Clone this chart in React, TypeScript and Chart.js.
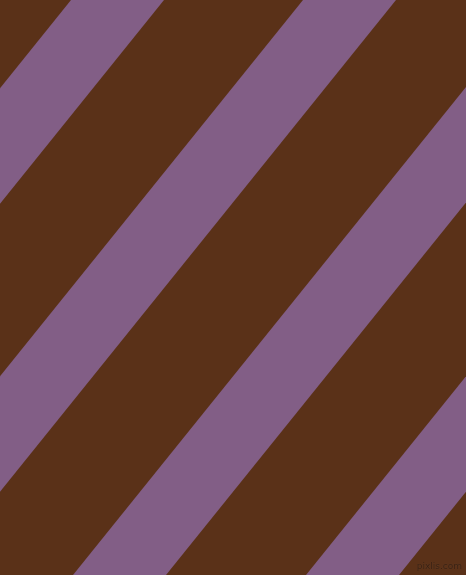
import { useEffect, useRef } from 'react';
import Chart from 'chart.js/auto';

// plot units match the picture: 466 wide, 575 tall, y counted from the top
const xRange = [0, 466];
const yRange = [0, 575];

// where each purple band's left edge meets the top border
const bandStarts = [-162, 71, 303, 536, 769];
// band width measured along the horizontal
const bandWidths = [93, 93, 93, 93, 93];
// how far each edge drifts left from top to bottom
const bandDrift = 463;

const brown = '#5a3118';
const purple = '#825e86';

export default function App() {
  const canvasRef = useRef<HTMLCanvasElement | null>(null);
  const chartRef = useRef<Chart | null>(null);

  useEffect(() => {
    if (!canvasRef.current) return;

    if (chartRef.current) {
      chartRef.current.destroy();
    }

    const top = yRange[0];
    const bottom = yRange[1];

    chartRef.current = new Chart(canvasRef.current, {
      type: 'scatter',
      data: {
        datasets: bandStarts.map((start, i) => ({
          label: 'band ' + (i + 1),
          data: [
            { x: start, y: top },
            { x: start + bandWidths[i], y: top },
            { x: start + bandWidths[i] - bandDrift, y: bottom },
            { x: start - bandDrift, y: bottom },
          ],
          showLine: true,
          fill: 'shape',
          backgroundColor: purple,
          borderWidth: 0,
          pointRadius: 0,
          pointHoverRadius: 0,
          tension: 0,
        })),
      },
      options: {
        animation: false,
        responsive: true,
        maintainAspectRatio: false,
        layout: { padding: 0 },
        events: [],
        plugins: {
          legend: { display: false },
          tooltip: { enabled: false },
        },
        scales: {
          x: { type: 'linear', min: xRange[0], max: xRange[1], display: false },
          y: { type: 'linear', min: yRange[0], max: yRange[1], reverse: true, display: false },
        },
      },
    });

    return () => {
      chartRef.current?.destroy();
    };
  }, []);

  return (
    <div style={{ position: 'fixed', left: 0, top: 0, width: 466, height: 575, background: brown }}>
      <canvas ref={canvasRef} />
      <span
        style={{
          position: 'absolute',
          right: 4,
          bottom: 4,
          fontFamily: '"DejaVu Sans", sans-serif',
          fontSize: 9,
          lineHeight: '10px',
          color: 'rgba(40,20,8,0.75)',
          textShadow: '0 0 1px rgba(255,255,255,0.12)',
        }}
      >
        pixlis.com
      </span>
    </div>
  );
}
